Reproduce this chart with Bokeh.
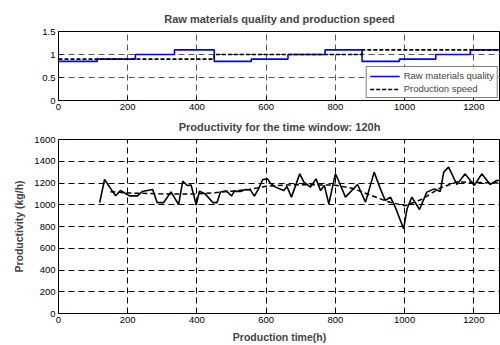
from bokeh.plotting import figure
from bokeh.layouts import column
from bokeh.models import FixedTicker, Range1d, Legend, LegendItem
from bokeh.embed import file_html
from bokeh.resources import INLINE

# ---- data: top panel (step series) ----
quality_x = [0, 112, 222, 335, 450, 557, 663, 770, 877, 985, 1090, 1190, 1280]
quality_y = [0.85, 0.9, 1.0, 1.1, 0.85, 0.9, 1.0, 1.1, 0.85, 0.9, 1.0, 1.1, 1.1]
speed_x = [0, 450, 877, 1280]
speed_y = [0.9, 1.0, 1.1, 1.1]

# ---- data: bottom panel ----
prod_x = [119, 133, 165, 179, 190, 205, 228, 242, 272, 285, 304, 325, 347, 359, 372, 383,
          398, 407, 423, 446, 458, 468, 485, 500, 508, 526, 540, 554, 566, 578, 590, 604,
          612, 627, 651, 660, 673, 697, 709, 728, 744, 757, 768, 781, 800, 809, 829, 864,
          887, 912, 930, 944, 959, 973, 997, 1007, 1021, 1043, 1064, 1086, 1103, 1113,
          1127, 1151, 1175, 1201, 1223, 1247, 1266, 1280]
prod_y = [1020, 1232, 1082, 1131, 1110, 1082, 1082, 1122, 1140, 1020, 1020, 1118, 1002,
          1217, 1177, 1182, 998, 1125, 1102, 1020, 1020, 1118, 1128, 1080, 1125, 1122,
          1140, 1137, 1079, 1146, 1232, 1238, 1199, 1162, 1131, 1168, 1070, 1284, 1208,
          1162, 1238, 1131, 1177, 1008, 1284, 1223, 1070, 1186, 1024, 1300, 1146, 1039,
          1070, 978, 779, 963, 1070, 956, 1116, 1146, 1122, 1300, 1346, 1186, 1284, 1177,
          1284, 1186, 1223, 1223]
trend_x = [150, 200, 300, 400, 450, 500, 550, 600, 650, 700, 800, 850, 900, 950, 1000,
           1050, 1100, 1150, 1200, 1280]
trend_y = [1120, 1108, 1100, 1100, 1110, 1125, 1140, 1170, 1180, 1185, 1180, 1150, 1090,
           1030, 990, 1050, 1150, 1210, 1205, 1200]

x_ticks = [0, 200, 400, 600, 800, 1000, 1200]
top_y_ticks = [0, 0.5, 1, 1.5]
bot_y_ticks = [0, 200, 400, 600, 800, 1000, 1200, 1400, 1600]

FONT = "Liberation Sans"
XMAX = 1277


def style(p, grid_color, title_standoff):
    p.title.text_font = FONT
    p.title.text_font_style = "bold"
    p.title.text_font_size = "11px"
    p.title.align = "center"
    p.title.offset = 0
    p.title.standoff = title_standoff
    for ax in (p.xaxis[0], p.yaxis[0]):
        ax.major_label_text_font = FONT
        ax.major_label_text_font_size = "9.5px"
        ax.major_label_text_color = "black"
        ax.axis_label_text_font = FONT
        ax.axis_label_text_font_style = "bold"
        ax.axis_label_text_font_size = "10.5px"
        ax.major_tick_in = 4
        ax.major_tick_out = 0
        ax.minor_tick_in = 0
        ax.minor_tick_out = 0
        ax.axis_line_color = "black"
        ax.major_tick_line_color = "black"
        ax.major_label_standoff = 3
    p.xgrid.grid_line_color = grid_color
    p.ygrid.grid_line_color = grid_color
    p.xgrid.grid_line_dash = "6 4"
    p.ygrid.grid_line_dash = "6 4"
    p.xgrid.grid_line_width = 1
    p.ygrid.grid_line_width = 1
    p.outline_line_color = "black"
    p.outline_line_width = 1
    p.xaxis.ticker = FixedTicker(ticks=x_ticks)


# ---- top figure ----
p1 = figure(frame_width=442, frame_height=69, output_backend="svg", toolbar_location=None,
            x_range=Range1d(0, XMAX), y_range=Range1d(0, 1.5),
            title="Raw materials quality and production speed",
            min_border_left=58, min_border_right=0, min_border_top=31, min_border_bottom=12)
style(p1, "#555555", 13)
p1.yaxis.ticker = FixedTicker(ticks=top_y_ticks)
p1.yaxis.major_label_overrides = {0: "0", 0.5: "0.5", 1: "1", 1.5: "1.5"}

r_q = p1.step(quality_x, quality_y, mode="after", line_color="#0000ff", line_width=1.6)
r_s = p1.step(speed_x, speed_y, mode="after", line_color="black", line_width=1.6,
              line_dash="4 2")
leg = Legend(items=[LegendItem(label="Raw materials quality", renderers=[r_q]),
                    LegendItem(label="Production speed", renderers=[r_s])],
             location="bottom_right")
leg.label_text_font = FONT
leg.label_text_font_size = "9.5px"
leg.label_height = 10
leg.glyph_height = 10
leg.glyph_width = 30
leg.spacing = 2
leg.padding = 3
leg.margin = 2
leg.label_standoff = 4
leg.border_line_color = "black"
leg.border_line_width = 1
leg.background_fill_alpha = 1
leg.inactive_fill_alpha = 1
p1.add_layout(leg)

# ---- bottom figure ----
p2 = figure(frame_width=442, frame_height=174, output_backend="svg", toolbar_location=None,
            x_range=Range1d(0, XMAX), y_range=Range1d(0, 1600),
            title="Productivity for the time window: 120h",
            min_border_left=58, min_border_right=0, min_border_top=27, min_border_bottom=30)
style(p2, "black", 13)
p2.yaxis.ticker = FixedTicker(ticks=bot_y_ticks)
p2.xaxis.axis_label = "Production time(h)"
p2.yaxis.axis_label = "Productivity (kg/h)"
p2.xaxis.axis_label_standoff = 5
p2.yaxis.axis_label_standoff = 6

p2.line(trend_x, trend_y, line_color="black", line_width=1.5, line_dash="5 3")
p2.line(prod_x, prod_y, line_color="black", line_width=1.6)

layout = column(p1, p2, spacing=0)
open("out.html", "w").write(file_html(layout, INLINE))
